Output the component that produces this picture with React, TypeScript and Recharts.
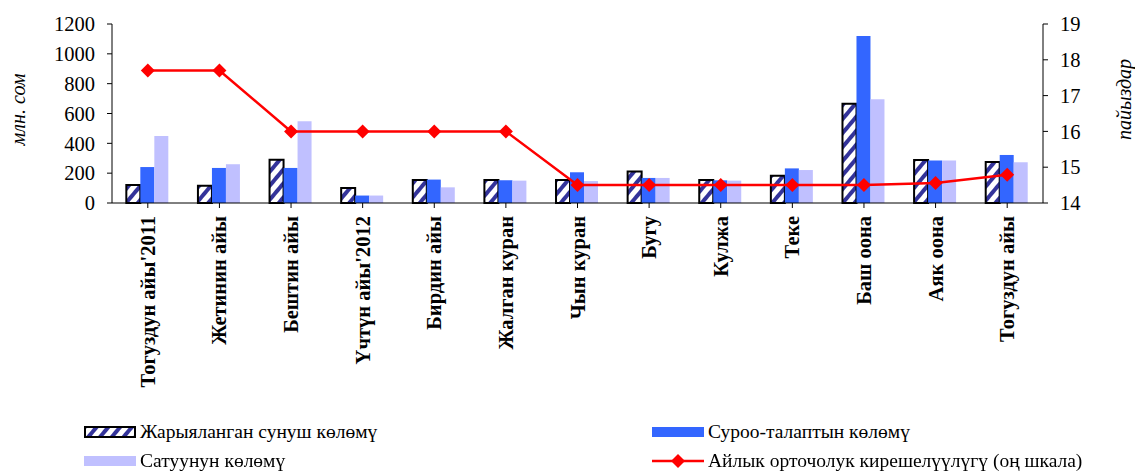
import React from "react";
import {
  ComposedChart,
  Bar,
  Line,
  XAxis,
  YAxis,
  Label,
} from "recharts";

const categories = [
  "Тогуздун айы'2011",
  "Жетинин айы",
  "Бештин айы",
  "Үчтүн айы'2012",
  "Бирдин айы",
  "Жалган куран",
  "Чын куран",
  "Бугу",
  "Кулжа",
  "Теке",
  "Баш оона",
  "Аяк оона",
  "Тогуздун айы",
];

const offered = [120, 115, 290, 100, 155, 154, 154, 212, 154, 183, 666, 288, 275];
const demand = [241, 235, 235, 50, 157, 152, 206, 168, 152, 232, 1120, 285, 322];
const sold = [449, 260, 548, 50, 105, 150, 147, 168, 150, 221, 695, 285, 273];
const yieldPct = [17.7, 17.7, 16.0, 16.0, 16.0, 16.0, 14.5, 14.5, 14.5, 14.5, 14.5, 14.56, 14.79];

const leftTicks = [0, 200, 400, 600, 800, 1000, 1200];
const rightTicks = [14, 15, 16, 17, 18, 19];

const chartData = categories.map((name, i) => ({
  name,
  offered: offered[i],
  demand: demand[i],
  sold: sold[i],
  yieldPct: yieldPct[i],
}));

const FONT = "'Liberation Serif', 'Times New Roman', serif";

function Diamond(props: any) {
  const { cx, cy, index } = props;
  const r = 7;
  return (
    <path
      key={`d-${index}`}
      d={`M${cx},${cy - r} L${cx + r},${cy} L${cx},${cy + r} L${cx - r},${cy} Z`}
      fill="#FF0000"
    />
  );
}

function XTick(props: any) {
  const { x, y, payload } = props;
  return (
    <text
      x={x}
      y={y}
      transform={`rotate(-90, ${x}, ${y})`}
      textAnchor="end"
      dominantBaseline="central"
      style={{ fontFamily: FONT, fontWeight: "bold", fontSize: 20.5 }}
      fill="#000"
    >
      {payload.value}
    </text>
  );
}

function LegendItem({ icon, label }: { icon: React.ReactNode; label: string }) {
  return (
    <div style={{ display: "flex", alignItems: "center", height: 22 }}>
      <svg width={52} height={14} style={{ marginRight: 4 }}>
        {icon}
      </svg>
      <span style={{ fontFamily: FONT, fontSize: 19.5, color: "#000", whiteSpace: "nowrap" }}>{label}</span>
    </div>
  );
}

export default function App() {
  return (
    <div style={{ position: "fixed", left: 0, top: 0, width: 1135, height: 471, background: "#fff", fontFamily: FONT }}>
      <svg width={0} height={0} style={{ position: "absolute" }}>
        <defs>
          <pattern
            id="hatch"
            width={9}
            height={9}
            patternUnits="userSpaceOnUse"
            patternTransform="rotate(40)"
          >
            <rect width={9} height={9} fill="#ffffff" />
            <rect width={4} height={9} fill="#33339A" />
          </pattern>
        </defs>
      </svg>
      <ComposedChart
        width={1135}
        height={471}
        data={chartData}
        margin={{ top: 24, right: 0, bottom: 0, left: 0 }}
        barGap={0}
        barCategoryGap="20%"
        style={{ fontFamily: FONT }}
      >
        <XAxis
          dataKey="name"
          yAxisId="left"
          height={268}
          interval={0}
          tick={<XTick />}
          tickLine={{ stroke: "#000" }}
          axisLine={{ stroke: "#000" }}
          tickSize={5}
          tickMargin={8}
        />
        <YAxis
          yAxisId="left"
          domain={[0, 1200]}
          ticks={leftTicks}
          width={112}
          tick={{ fontSize: 20.5, fill: "#000", style: { fontFamily: FONT } }}
          axisLine={{ stroke: "#000" }}
          tickLine={{ stroke: "#000" }}
          tickSize={5}
          tickMargin={12}
          interval={0}
        >
          <Label
            value="млн. сом"
            angle={-90}
            position="center"
            dx={-38}
            dy={-4}
            fontSize={20}
            fontStyle="italic"
            fill="#000"
            style={{ fontFamily: FONT, fontStyle: "italic", fontSize: 20 }}
          />
        </YAxis>
        <YAxis
          yAxisId="right"
          orientation="right"
          domain={[14, 19]}
          ticks={rightTicks}
          width={92}
          tick={{ fontSize: 20.5, fill: "#000", style: { fontFamily: FONT } }}
          axisLine={{ stroke: "#000" }}
          tickLine={{ stroke: "#000" }}
          tickSize={5}
          tickMargin={12}
          interval={0}
        >
          <Label
            value="пайыздар"
            angle={-90}
            position="center"
            dx={35}
            dy={-14}
            fontSize={20}
            fontStyle="italic"
            fill="#000"
            style={{ fontFamily: FONT, fontStyle: "italic", fontSize: 20 }}
          />
        </YAxis>
        <Bar
          yAxisId="left"
          dataKey="offered"
          fill="url(#hatch)"
          stroke="#000"
          strokeWidth={2}
          isAnimationActive={false}
        />
        <Bar yAxisId="left" dataKey="demand" fill="#3366FF" isAnimationActive={false} />
        <Bar yAxisId="left" dataKey="sold" fill="#C0C0FF" isAnimationActive={false} />
        <Line
          yAxisId="right"
          dataKey="yieldPct"
          type="linear"
          stroke="#FF0000"
          strokeWidth={2.5}
          dot={<Diamond />}
          activeDot={false}
          isAnimationActive={false}
        />
      </ComposedChart>
      <div style={{ position: "absolute", left: 84, top: 421 }}>
        <LegendItem
          label="Жарыяланган сунуш көлөмү"
          icon={<rect x={1} y={2} width={50} height={10} fill="url(#hatch)" stroke="#000" strokeWidth={2} />}
        />
        <div style={{ height: 7 }} />
        <LegendItem label="Сатуунун көлөмү" icon={<rect x={0} y={2} width={52} height={10} fill="#C0C0FF" />} />
      </div>
      <div style={{ position: "absolute", left: 652, top: 421 }}>
        <LegendItem label="Суроо-талаптын көлөмү" icon={<rect x={0} y={2} width={52} height={10} fill="#3366FF" />} />
        <div style={{ height: 7 }} />
        <LegendItem
          label="Айлык орточолук кирешелүүлүгү (оң шкала)"
          icon={
            <g>
              <line x1={0} y1={7} x2={52} y2={7} stroke="#FF0000" strokeWidth={2.5} />
              <path d="M26,0 L33,7 L26,14 L19,7 Z" fill="#FF0000" />
            </g>
          }
        />
      </div>
    </div>
  );
}
